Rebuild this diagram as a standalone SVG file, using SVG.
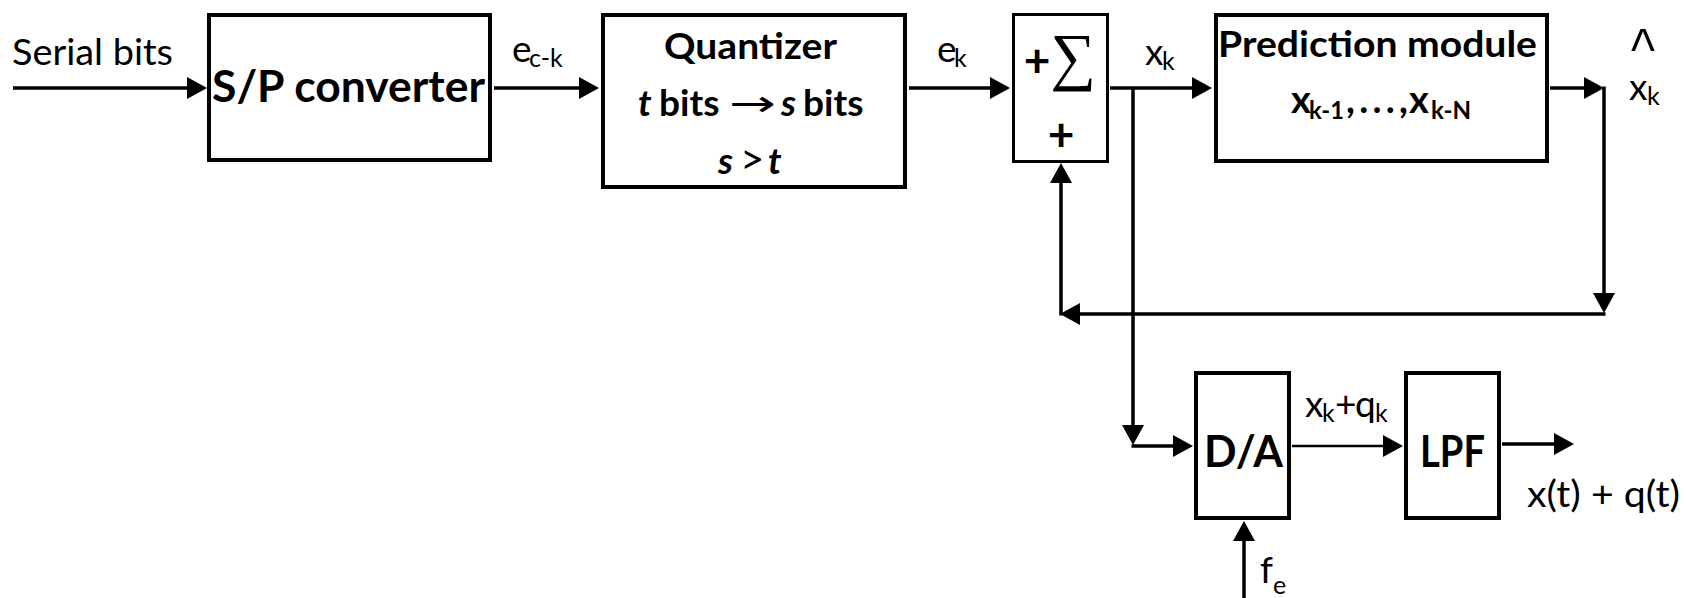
<svg xmlns="http://www.w3.org/2000/svg" width="1687" height="598" viewBox="0 0 1687 598">
<defs>
<marker id="ah" markerUnits="userSpaceOnUse" markerWidth="20" markerHeight="22" refX="1" refY="11" orient="auto">
<path d="M0,0 L20,11 L0,22 z" fill="#000"/>
</marker>
<style>
.box{fill:#fff;stroke:#000;stroke-width:4}
.ln{fill:none;stroke:#000;stroke-width:3.5}
.t{font-family:Lato,"Liberation Sans",sans-serif;fill:#000}
.r{font-size:37px}
.s{font-size:25px}
.b{font-weight:bold}
.i{font-style:italic}
</style>
</defs>
<rect width="1687" height="598" fill="#fff"/>
<g id="connectors" class="ln">
<path d="M13,88 H188" marker-end="url(#ah)"/>
<path d="M494,88 H580" marker-end="url(#ah)"/>
<path d="M909,88 H991" marker-end="url(#ah)"/>
<path d="M1110,88 H1193" marker-end="url(#ah)"/>
<path d="M1133,88 V426" marker-end="url(#ah)"/>
<path d="M1131.5,446 H1174" marker-end="url(#ah)"/>
<path d="M1550,88 H1585" marker-end="url(#ah)"/>
<path d="M1604,86.5 V294" marker-end="url(#ah)"/>
<path d="M1605.5,314 H1079" marker-end="url(#ah)"/>
<path d="M1061,315.5 V182" marker-end="url(#ah)"/>
<path d="M1292,446 H1384" style="stroke-width:2.5" marker-end="url(#ah)"/>
<path d="M1502,444 H1555" marker-end="url(#ah)"/>
<path d="M1244,598 V540" marker-end="url(#ah)"/>
</g>
<g id="sp-converter">
<rect class="box" x="209" y="15" width="281" height="145"/>
<text class="t b" x="212" y="102" font-size="43" textLength="273" lengthAdjust="spacingAndGlyphs">S/P converter</text>
</g>
<g id="quantizer">
<rect class="box" x="603" y="15" width="302" height="172"/>
<text class="t b" x="664" y="59" font-size="37" textLength="173" lengthAdjust="spacingAndGlyphs">Quantizer</text>
<text class="t b" y="116" font-size="37"><tspan x="638" class="i">t</tspan><tspan x="659">bits</tspan><tspan x="781" class="i">s</tspan><tspan x="803">bits</tspan></text>
<text x="729" y="116" font-family="DejaVu Sans" font-size="36" textLength="47" lengthAdjust="spacingAndGlyphs">→</text>
<text class="t b" y="174" font-size="37"><tspan x="718" class="i">s</tspan><tspan x="740" font-weight="normal" font-size="42">&gt;</tspan><tspan x="768" class="i">t</tspan></text>
</g>
<g id="summer">
<rect x="1013.5" y="14.5" width="94" height="147" style="fill:#fff;stroke:#000;stroke-width:3"/>
<text class="t b" x="1037" y="77" font-size="46" text-anchor="middle">+</text>
<text x="1073" y="78" font-family="Liberation Serif" font-size="64" text-anchor="middle">∑</text>
<text class="t b" x="1061" y="151" font-size="46" text-anchor="middle">+</text>
</g>
<g id="prediction-module">
<rect class="box" x="1216" y="15" width="331" height="146"/>
<text class="t b" x="1218" y="57" font-size="37" textLength="319" lengthAdjust="spacingAndGlyphs">Prediction module</text>
<text class="t b" font-size="38"><tspan x="1291" y="113">x</tspan><tspan x="1309" y="119" font-size="25" textLength="35" lengthAdjust="spacingAndGlyphs">k-1</tspan><tspan x="1346" y="113" textLength="62" lengthAdjust="spacing">,...,</tspan><tspan x="1409" y="113">x</tspan><tspan x="1431" y="119" font-size="25" textLength="40" lengthAdjust="spacingAndGlyphs">k-N</tspan></text>
</g>
<g id="da-converter">
<rect class="box" x="1196" y="373" width="93" height="145"/>
<text class="t b" x="1204" y="467" font-size="43" textLength="79" lengthAdjust="spacingAndGlyphs">D/A</text>
</g>
<g id="lpf">
<rect class="box" x="1406" y="373" width="93" height="145"/>
<text class="t b" x="1420" y="467" font-size="43" textLength="65" lengthAdjust="spacingAndGlyphs">LPF</text>
</g>
<g id="labels" class="t">
<text class="r" x="12" y="65" textLength="161" lengthAdjust="spacingAndGlyphs">Serial bits</text>
<text class="r"><tspan x="512" y="62">e</tspan><tspan class="s" x="529" y="67">c-k</tspan></text>
<text class="r"><tspan x="937" y="62">e</tspan><tspan class="s" x="954" y="67">k</tspan></text>
<text class="r"><tspan x="1145" y="65">x</tspan><tspan class="s" x="1162" y="70">k</tspan></text>
<text class="r"><tspan x="1643" y="62" text-anchor="middle" font-family="Liberation Mono" font-size="50">^</tspan><tspan x="1629" y="100">x</tspan><tspan class="s" x="1647" y="105">k</tspan></text>
<text class="r"><tspan x="1305" y="417">x</tspan><tspan class="s" x="1322" y="422">k</tspan><tspan x="1335" y="417">+</tspan><tspan x="1355" y="417">q</tspan><tspan class="s" x="1375" y="422">k</tspan></text>
<text class="r" x="1527" y="507" textLength="153" lengthAdjust="spacingAndGlyphs">x(t) + q(t)</text>
<text class="r"><tspan x="1260" y="583">f</tspan><tspan class="s" x="1273" y="594">e</tspan></text>
</g>
</svg>
